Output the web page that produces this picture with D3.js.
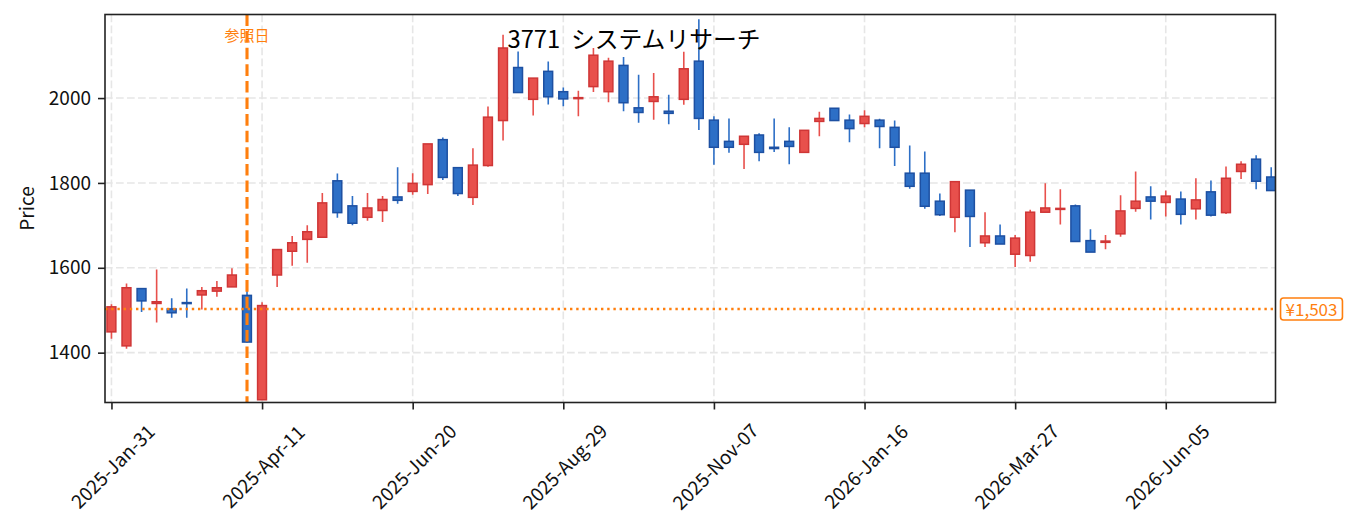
<!DOCTYPE html>
<html>
<head>
<meta charset="utf-8">
<script src="https://cdn.jsdelivr.net/npm/d3@7/dist/d3.min.js"></script>
<style>
  html, body { margin: 0; padding: 0; background: #ffffff; }
  svg { display: block; font-family: "Noto Sans CJK JP", "Noto Sans", sans-serif; }
</style>
</head>
<body>
<svg id="chart" width="1355" height="532"></svg>
<script>
// ---- data (weekly candles) ----
const startDate = "2025-01-31";
const open  = [1449,1416,1551,1516,1503,1518,1536,1545,1555,1535,1289,1583,1639,1667,1672,1805,1746,1719,1735,1767,
               1780,1796,1902,1836,1766,1841,1947,2072,1997,2063,2015,1999,2027,2015,2077,1977,1992,1969,1997,2087,
               1948,1898,1891,1913,1884,1898,1872,1945,1976,1948,1940,1948,1931,1823,1823,1757,1719,1783,1659,1675,
               1632,1629,1731,1738,1746,1664,1660,1680,1740,1767,1754,1762,1739,1779,1730,1827,1856,1814];
const high  = [1514,1563,1552,1596,1528,1551,1555,1569,1599,1553,1519,1643,1675,1700,1776,1822,1769,1776,1769,1837,
               1823,1892,1907,1836,1882,1980,2149,2110,2047,2086,2025,2017,2118,2095,2097,2055,2059,2008,2109,2186,
               1957,1952,1910,1917,1952,1931,1924,1968,1976,1961,1971,1951,1947,1888,1874,1775,1803,1783,1731,1702,
               1677,1737,1799,1785,1749,1691,1677,1771,1827,1792,1782,1780,1811,1806,1839,1851,1865,1837];
const low   = [1433,1409,1496,1471,1482,1482,1502,1532,1555,1424,1289,1555,1605,1612,1672,1718,1700,1711,1708,1751,
               1772,1774,1807,1769,1748,1838,1900,2013,1959,1985,1981,1957,2014,1990,1969,1942,1949,1938,1984,1925,
               1843,1871,1833,1851,1873,1844,1872,1910,1947,1896,1931,1882,1840,1786,1739,1722,1684,1649,1649,1656,
               1602,1614,1731,1702,1662,1637,1644,1673,1732,1714,1721,1702,1714,1721,1727,1809,1785,1782];
const close = [1508,1553,1522,1520,1494,1516,1546,1553,1583,1425,1511,1643,1659,1685,1753,1730,1705,1741,1761,1759,
               1799,1892,1813,1775,1842,1955,2118,2013,2047,2003,1998,2001,2101,2087,1989,1966,2003,1964,2069,1952,
               1884,1884,1910,1872,1881,1886,1924,1952,1947,1928,1957,1933,1884,1792,1745,1725,1803,1721,1675,1656,
               1670,1731,1741,1740,1662,1637,1663,1734,1757,1757,1769,1726,1760,1724,1811,1844,1804,1782];
const xTicks = ["2025-01-31","2025-04-11","2025-06-20","2025-08-29","2025-11-07","2026-01-16","2026-03-27","2026-06-05"];
const yTicks = [1400, 1600, 1800, 2000];
const refDate = "2025-04-04";
const refLabel = "参照日";
const refPrice = 1503;
const refPriceLabel = "¥1,503";
const title = "3771  システムリサーチ";
const yLabel = "Price";

// ---- layout ----
const W = 1355, H = 532;
const m = { left: 105, right: 1275.5, top: 14.5, bottom: 402.5 };
const parse = d3.utcParse("%Y-%m-%d");
const t0 = parse(startDate);
const dates = open.map((_, i) => d3.utcDay.offset(t0, i * 7));
const pad = 2.65; // days
const x = d3.scaleUtc()
  .domain([d3.utcDay.offset(dates[0], -pad), d3.utcDay.offset(dates[dates.length - 1], pad)])
  .range([m.left, m.right]);
const y = d3.scaleLinear()
  .domain([d3.min(low) * 0.995, d3.max(high) * 1.005])
  .range([m.bottom, m.top]);

const svg = d3.select("#chart");
const upFill = "#e8504c", upEdge = "#cf3636";
const dnFill = "#2d6fc6", dnEdge = "#1d50a2";

// clip
svg.append("defs").append("clipPath").attr("id", "clip")
  .append("rect").attr("x", m.left).attr("y", m.top)
  .attr("width", m.right - m.left).attr("height", m.bottom - m.top);

// grid
const grid = svg.append("g");
grid.selectAll("line.gy").data(yTicks).join("line")
  .attr("x1", m.left).attr("x2", m.right)
  .attr("y1", d => y(d)).attr("y2", d => y(d))
  .attr("stroke", "#e6e6e6").attr("stroke-width", 1.6).attr("stroke-dasharray", "7.7,3.3");
grid.selectAll("line.gx").data(xTicks).join("line")
  .attr("x1", d => x(parse(d))).attr("x2", d => x(parse(d)))
  .attr("y1", m.top).attr("y2", m.bottom)
  .attr("stroke", "#e6e6e6").attr("stroke-width", 1.6).attr("stroke-dasharray", "7.7,3.3");

// candles
const candles = svg.append("g").attr("clip-path", "url(#clip)");
const idx = d3.range(open.length);
const halfW = 2.05; // days
candles.selectAll("line.wick").data(idx).join("line")
  .attr("x1", i => x(dates[i])).attr("x2", i => x(dates[i]))
  .attr("y1", i => y(high[i])).attr("y2", i => y(low[i]))
  .attr("stroke", i => close[i] >= open[i] ? upFill : dnFill)
  .attr("stroke-width", 1.6);
candles.selectAll("rect.body").data(idx).join("rect")
  .attr("x", i => x(d3.utcHour.offset(dates[i], -halfW * 24)))
  .attr("width", i => x(d3.utcHour.offset(dates[i], halfW * 24)) - x(d3.utcHour.offset(dates[i], -halfW * 24)))
  .attr("y", i => y(Math.max(open[i], close[i])))
  .attr("height", i => Math.max(1, Math.abs(y(open[i]) - y(close[i]))))
  .attr("fill", i => close[i] >= open[i] ? upFill : dnFill)
  .attr("stroke", i => close[i] >= open[i] ? upEdge : dnEdge)
  .attr("stroke-width", 1.5);

// reference price line
svg.append("line")
  .attr("x1", m.left).attr("x2", m.right)
  .attr("y1", y(refPrice)).attr("y2", y(refPrice))
  .attr("stroke", "#ff7f0e").attr("stroke-width", 2.4).attr("stroke-dasharray", "2.4,3.8");

// reference date line
const rx = x(parse(refDate));
svg.append("line")
  .attr("x1", rx).attr("x2", rx).attr("y1", m.top).attr("y2", m.bottom)
  .attr("stroke", "#ff7f0e").attr("stroke-width", 3.1).attr("stroke-dasharray", "11.6,5");
svg.append("text")
  .attr("x", rx).attr("y", 34)
  .attr("text-anchor", "middle").attr("dominant-baseline", "central")
  .attr("font-size", 15).attr("fill", "#ff7f0e")
  .text(refLabel);

// title
svg.append("text")
  .attr("x", 634).attr("y", 48)
  .attr("text-anchor", "middle")
  .attr("font-size", 23.8).attr("fill", "#000")
  .style("white-space", "pre")
  .attr("xml:space", "preserve")
  .text(title);

// axes
const yAxis = svg.append("g").attr("transform", `translate(${m.left},0)`)
  .call(d3.axisLeft(y).tickValues(yTicks).tickSize(7).tickPadding(7).tickFormat(d3.format("d")));
const xAxis = svg.append("g").attr("transform", `translate(0,${m.bottom})`)
  .call(d3.axisBottom(x).tickValues(xTicks.map(parse)).tickSize(7).tickFormat(d3.utcFormat("%Y-%b-%d")));
[yAxis, xAxis].forEach(a => {
  a.select(".domain").remove();
  a.selectAll(".tick line").attr("stroke", "#222").attr("stroke-width", 1.6);
  a.selectAll(".tick text").attr("fill", "#111").attr("font-size", 19)
    .attr("font-family", "Noto Sans CJK JP, Noto Sans, sans-serif");
});
xAxis.selectAll(".tick text")
  .attr("y", 0).attr("dy", null)
  .attr("text-anchor", "middle").attr("dominant-baseline", "central")
  .attr("transform", "translate(0,63) rotate(-45)");

// spines
svg.append("rect")
  .attr("x", m.left).attr("y", m.top)
  .attr("width", m.right - m.left).attr("height", m.bottom - m.top)
  .attr("fill", "none").attr("stroke", "#222").attr("stroke-width", 1.6);

// y label
svg.append("text")
  .attr("transform", `translate(25,${(m.top + m.bottom) / 2}) rotate(-90)`)
  .attr("text-anchor", "middle").attr("dominant-baseline", "central")
  .attr("font-size", 19).attr("fill", "#111")
  .text(yLabel);

// price tag
const tag = svg.append("g");
const tt = tag.append("text")
  .attr("x", 1311.5).attr("y", y(refPrice))
  .attr("text-anchor", "middle").attr("dominant-baseline", "central")
  .attr("font-size", 17).attr("fill", "#ff7f0e")
  .text(refPriceLabel);
const bb = tt.node().getBBox();
tag.insert("rect", "text")
  .attr("x", bb.x - 5).attr("y", y(refPrice) - 11)
  .attr("width", bb.width + 10).attr("height", 22)
  .attr("rx", 3).attr("fill", "#fff")
  .attr("stroke", "#ff7f0e").attr("stroke-width", 1.6);
</script>
</body>
</html>
